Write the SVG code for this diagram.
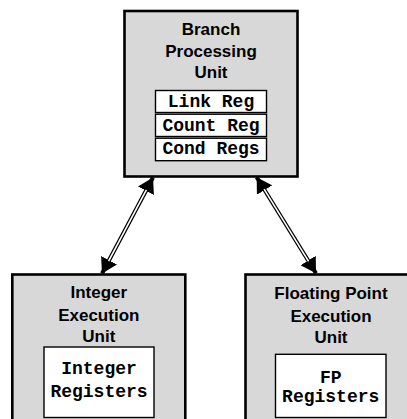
<svg xmlns="http://www.w3.org/2000/svg" width="407" height="419" viewBox="0 0 407 419">
<defs>
<style>
.unit{fill:#d8d8d8;stroke:#000;stroke-width:2.6}
.reg{fill:#fff;stroke:#000;stroke-width:1.4}
.title{font-family:"Liberation Sans",Arial,sans-serif;font-weight:bold;font-size:17px;text-anchor:middle;fill:#000}
.mono{font-family:"Liberation Mono","Courier New",monospace;font-weight:bold;font-size:18px;text-anchor:middle;fill:#000}
.outer{stroke:#000;stroke-width:4;fill:none}
.inner{stroke:#fff;stroke-width:1.6;fill:none}
</style>
<marker id="ah" markerUnits="userSpaceOnUse" markerWidth="16" markerHeight="18" refX="15" refY="9" orient="auto-start-reverse" viewBox="0 0 16 18">
<path d="M0,0 L15,9 L0,18 z" fill="#000"/>
</marker>
</defs>
<g id="branch">
<rect class="unit" x="124.5" y="11" width="173" height="165.5"/>
<text class="title" x="211" y="35">Branch</text>
<text class="title" x="211" y="57">Processing</text>
<text class="title" x="211" y="78">Unit</text>
<rect class="reg" x="155.5" y="90.5" width="111" height="22"/>
<text class="mono" x="211" y="107.3">Link Reg</text>
<rect class="reg" x="155.5" y="114.2" width="111" height="22.3"/>
<text class="mono" x="211" y="130.7">Count Reg</text>
<rect class="reg" x="155.5" y="138.2" width="111" height="22.5"/>
<text class="mono" x="211" y="154.3">Cond Regs</text>
</g>
<g id="integer">
<rect class="unit" x="12.3" y="274.5" width="173" height="160"/>
<text class="title" x="98.8" y="298.3">Integer</text>
<text class="title" x="98.8" y="320.5">Execution</text>
<text class="title" x="98.8" y="342.3">Unit</text>
<rect class="reg" x="44" y="347" width="110" height="70.5"/>
<text class="mono" x="99" y="374">Integer</text>
<text class="mono" x="99" y="396.7">Registers</text>
</g>
<g id="fp">
<rect class="unit" x="245.5" y="274.5" width="173" height="160"/>
<text class="title" x="331" y="299.3">Floating Point</text>
<text class="title" x="331" y="321.5">Execution</text>
<text class="title" x="331" y="342.7">Unit</text>
<rect class="reg" x="275.5" y="354.3" width="110.5" height="63.2"/>
<text class="mono" x="330.7" y="383.3">FP</text>
<text class="mono" x="330.7" y="402.3">Registers</text>
</g>
<g id="connectors">
<path class="outer" d="M153,177.5 L102,273.5" marker-start="url(#ah)" marker-end="url(#ah)"/>
<path class="inner" d="M146.4,189.9 L108.6,261.1"/>
<path class="outer" d="M256.7,177.3 L316,273.3" marker-start="url(#ah)" marker-end="url(#ah)"/>
<path class="inner" d="M264.1,189.2 L308.6,261.4"/>
</g>
</svg>
